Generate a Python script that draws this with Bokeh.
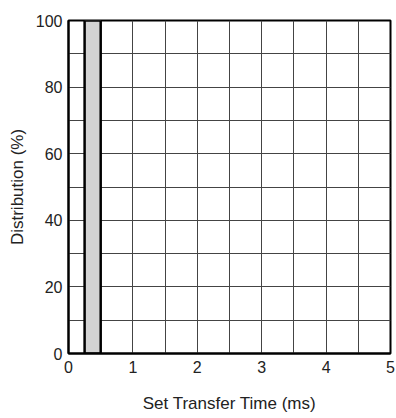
from bokeh.plotting import figure
from bokeh.models import FixedTicker, Range1d
from bokeh.embed import file_html
from bokeh.resources import INLINE

bin_left = [0.25]
bin_right = [0.5]
distribution = [100]

x_ticks = [0, 1, 2, 3, 4, 5]
y_ticks = [0, 20, 40, 60, 80, 100]
x_grid = [0.5 * i for i in range(11)]
y_grid = [10 * i for i in range(11)]

p = figure(output_backend="svg", toolbar_location=None,
           x_range=Range1d(0, 5), y_range=Range1d(0, 100),
           frame_width=322, frame_height=333,
           min_border_left=68, min_border_right=6, min_border_top=20, min_border_bottom=60)

p.quad(left=bin_left, right=bin_right, bottom=0, top=distribution,
       fill_color="#d3d3d3", line_color="black", line_width=2.5)

p.xgrid.ticker = FixedTicker(ticks=x_grid)
p.ygrid.ticker = FixedTicker(ticks=y_grid)
for g in (p.xgrid, p.ygrid):
    g.grid_line_color = "#444444"
    g.grid_line_width = 1
    g.grid_line_alpha = 1.0
    g.level = "underlay"

p.xaxis.ticker = FixedTicker(ticks=x_ticks)
p.yaxis.ticker = FixedTicker(ticks=y_ticks)
for ax in (p.xaxis, p.yaxis):
    ax.axis_line_color = "black"
    ax.axis_line_width = 2
    ax.major_tick_line_color = None
    ax.minor_tick_line_color = None
    ax.major_tick_out = 0
    ax.major_tick_in = 0
    ax.major_label_text_font = "Liberation Sans"
    ax.major_label_text_font_size = "16px"
    ax.major_label_text_color = "#222222"
    ax.axis_label_text_font = "Liberation Sans"
    ax.axis_label_text_font_size = "17px"
    ax.axis_label_text_font_style = "normal"
    ax.axis_label_text_color = "#222222"

p.xaxis.axis_label = "Set Transfer Time (ms)"
p.yaxis.axis_label = "Distribution (%)"
p.xaxis.major_label_standoff = 7
p.yaxis.major_label_standoff = 6
p.xaxis.axis_label_standoff = 18
p.yaxis.axis_label_standoff = 6

p.outline_line_color = "black"
p.outline_line_width = 2
p.outline_line_alpha = 1.0
p.background_fill_color = "white"
p.border_fill_color = "white"

open("out.html", "w").write(file_html(p, INLINE))
